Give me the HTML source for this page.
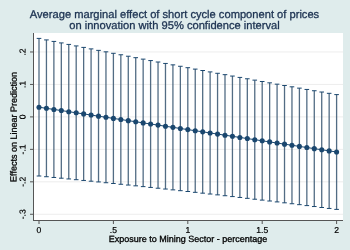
<!DOCTYPE html>
<html><head><meta charset="utf-8"><style>
html,body{margin:0;padding:0;background:#DFECEC;}
svg{display:block;will-change:transform;text-rendering:geometricPrecision;font-family:"Liberation Sans",sans-serif;}
</style></head><body>
<svg width="350" height="250" viewBox="0 0 350 250">
<rect x="0" y="0" width="350" height="250" fill="#DFECEC"/>
<rect x="33" y="33" width="310" height="187" fill="#fff"/>
<line x1="33" x2="343" y1="51.98" y2="51.98" stroke="#EDEDED" stroke-width="1"/>
<line x1="33" x2="343" y1="84.44" y2="84.44" stroke="#EDEDED" stroke-width="1"/>
<line x1="33" x2="343" y1="116.90" y2="116.90" stroke="#EDEDED" stroke-width="1"/>
<line x1="33" x2="343" y1="149.36" y2="149.36" stroke="#EDEDED" stroke-width="1"/>
<line x1="33" x2="343" y1="181.82" y2="181.82" stroke="#EDEDED" stroke-width="1"/>
<line x1="33" x2="343" y1="214.28" y2="214.28" stroke="#EDEDED" stroke-width="1"/>
<line x1="33.5" x2="33.5" y1="33" y2="221" stroke="#555" stroke-width="1"/>
<line x1="33" x2="343" y1="220.5" y2="220.5" stroke="#555" stroke-width="1"/>
<line x1="30" x2="33" y1="51.98" y2="51.98" stroke="#555" stroke-width="1"/>
<text transform="translate(25.6,51.98) rotate(-89.9)" text-anchor="middle" font-size="8.6" stroke="#000" stroke-width="0.2">.2</text>
<line x1="30" x2="33" y1="84.44" y2="84.44" stroke="#555" stroke-width="1"/>
<text transform="translate(25.6,84.44) rotate(-89.9)" text-anchor="middle" font-size="8.6" stroke="#000" stroke-width="0.2">.1</text>
<line x1="30" x2="33" y1="116.90" y2="116.90" stroke="#555" stroke-width="1"/>
<text transform="translate(25.6,116.90) rotate(-89.9)" text-anchor="middle" font-size="8.6" stroke="#000" stroke-width="0.2">0</text>
<line x1="30" x2="33" y1="149.36" y2="149.36" stroke="#555" stroke-width="1"/>
<text transform="translate(25.6,149.36) rotate(-89.9)" text-anchor="middle" font-size="8.6" stroke="#000" stroke-width="0.2">-.1</text>
<line x1="30" x2="33" y1="181.82" y2="181.82" stroke="#555" stroke-width="1"/>
<text transform="translate(25.6,181.82) rotate(-89.9)" text-anchor="middle" font-size="8.6" stroke="#000" stroke-width="0.2">-.2</text>
<line x1="30" x2="33" y1="214.28" y2="214.28" stroke="#555" stroke-width="1"/>
<text transform="translate(25.6,214.28) rotate(-89.9)" text-anchor="middle" font-size="8.6" stroke="#000" stroke-width="0.2">-.3</text>
<line x1="39.00" x2="39.00" y1="221" y2="224" stroke="#555" stroke-width="1"/>
<text x="39.00" y="233.4" text-anchor="middle" font-size="8.6" stroke="#000" stroke-width="0.2">0</text>
<line x1="113.40" x2="113.40" y1="221" y2="224" stroke="#555" stroke-width="1"/>
<text x="113.40" y="233.4" text-anchor="middle" font-size="8.6" stroke="#000" stroke-width="0.2">.5</text>
<line x1="187.80" x2="187.80" y1="221" y2="224" stroke="#555" stroke-width="1"/>
<text x="187.80" y="233.4" text-anchor="middle" font-size="8.6" stroke="#000" stroke-width="0.2">1</text>
<line x1="262.20" x2="262.20" y1="221" y2="224" stroke="#555" stroke-width="1"/>
<text x="262.20" y="233.4" text-anchor="middle" font-size="8.6" stroke="#000" stroke-width="0.2">1.5</text>
<line x1="336.60" x2="336.60" y1="221" y2="224" stroke="#555" stroke-width="1"/>
<text x="336.60" y="233.4" text-anchor="middle" font-size="8.6" stroke="#000" stroke-width="0.2">2</text>
<line x1="39.00" x2="39.00" y1="38.40" y2="176.00" stroke="#34526F" stroke-width="1.3" stroke-opacity="0.85"/>
<line x1="36.70" x2="41.30" y1="38.40" y2="38.40" stroke="#1A476F" stroke-width="1"/>
<line x1="36.70" x2="41.30" y1="176.00" y2="176.00" stroke="#1A476F" stroke-width="1"/>
<line x1="46.44" x2="46.44" y1="39.91" y2="176.73" stroke="#34526F" stroke-width="1.3" stroke-opacity="0.85"/>
<line x1="44.14" x2="48.74" y1="39.91" y2="39.91" stroke="#1A476F" stroke-width="1"/>
<line x1="44.14" x2="48.74" y1="176.73" y2="176.73" stroke="#1A476F" stroke-width="1"/>
<line x1="53.88" x2="53.88" y1="41.42" y2="177.46" stroke="#34526F" stroke-width="1.3" stroke-opacity="0.85"/>
<line x1="51.58" x2="56.18" y1="41.42" y2="41.42" stroke="#1A476F" stroke-width="1"/>
<line x1="51.58" x2="56.18" y1="177.46" y2="177.46" stroke="#1A476F" stroke-width="1"/>
<line x1="61.32" x2="61.32" y1="42.92" y2="178.20" stroke="#34526F" stroke-width="1.3" stroke-opacity="0.85"/>
<line x1="59.02" x2="63.62" y1="42.92" y2="42.92" stroke="#1A476F" stroke-width="1"/>
<line x1="59.02" x2="63.62" y1="178.20" y2="178.20" stroke="#1A476F" stroke-width="1"/>
<line x1="68.76" x2="68.76" y1="44.42" y2="178.94" stroke="#34526F" stroke-width="1.3" stroke-opacity="0.85"/>
<line x1="66.46" x2="71.06" y1="44.42" y2="44.42" stroke="#1A476F" stroke-width="1"/>
<line x1="66.46" x2="71.06" y1="178.94" y2="178.94" stroke="#1A476F" stroke-width="1"/>
<line x1="76.20" x2="76.20" y1="45.91" y2="179.69" stroke="#34526F" stroke-width="1.3" stroke-opacity="0.85"/>
<line x1="73.90" x2="78.50" y1="45.91" y2="45.91" stroke="#1A476F" stroke-width="1"/>
<line x1="73.90" x2="78.50" y1="179.69" y2="179.69" stroke="#1A476F" stroke-width="1"/>
<line x1="83.64" x2="83.64" y1="47.40" y2="180.44" stroke="#34526F" stroke-width="1.3" stroke-opacity="0.85"/>
<line x1="81.34" x2="85.94" y1="47.40" y2="47.40" stroke="#1A476F" stroke-width="1"/>
<line x1="81.34" x2="85.94" y1="180.44" y2="180.44" stroke="#1A476F" stroke-width="1"/>
<line x1="91.08" x2="91.08" y1="48.89" y2="181.19" stroke="#34526F" stroke-width="1.3" stroke-opacity="0.85"/>
<line x1="88.78" x2="93.38" y1="48.89" y2="48.89" stroke="#1A476F" stroke-width="1"/>
<line x1="88.78" x2="93.38" y1="181.19" y2="181.19" stroke="#1A476F" stroke-width="1"/>
<line x1="98.52" x2="98.52" y1="50.37" y2="181.95" stroke="#34526F" stroke-width="1.3" stroke-opacity="0.85"/>
<line x1="96.22" x2="100.82" y1="50.37" y2="50.37" stroke="#1A476F" stroke-width="1"/>
<line x1="96.22" x2="100.82" y1="181.95" y2="181.95" stroke="#1A476F" stroke-width="1"/>
<line x1="105.96" x2="105.96" y1="51.84" y2="182.72" stroke="#34526F" stroke-width="1.3" stroke-opacity="0.85"/>
<line x1="103.66" x2="108.26" y1="51.84" y2="51.84" stroke="#1A476F" stroke-width="1"/>
<line x1="103.66" x2="108.26" y1="182.72" y2="182.72" stroke="#1A476F" stroke-width="1"/>
<line x1="113.40" x2="113.40" y1="53.31" y2="183.49" stroke="#34526F" stroke-width="1.3" stroke-opacity="0.85"/>
<line x1="111.10" x2="115.70" y1="53.31" y2="53.31" stroke="#1A476F" stroke-width="1"/>
<line x1="111.10" x2="115.70" y1="183.49" y2="183.49" stroke="#1A476F" stroke-width="1"/>
<line x1="120.84" x2="120.84" y1="54.77" y2="184.27" stroke="#34526F" stroke-width="1.3" stroke-opacity="0.85"/>
<line x1="118.54" x2="123.14" y1="54.77" y2="54.77" stroke="#1A476F" stroke-width="1"/>
<line x1="118.54" x2="123.14" y1="184.27" y2="184.27" stroke="#1A476F" stroke-width="1"/>
<line x1="128.28" x2="128.28" y1="56.23" y2="185.05" stroke="#34526F" stroke-width="1.3" stroke-opacity="0.85"/>
<line x1="125.98" x2="130.58" y1="56.23" y2="56.23" stroke="#1A476F" stroke-width="1"/>
<line x1="125.98" x2="130.58" y1="185.05" y2="185.05" stroke="#1A476F" stroke-width="1"/>
<line x1="135.72" x2="135.72" y1="57.68" y2="185.84" stroke="#34526F" stroke-width="1.3" stroke-opacity="0.85"/>
<line x1="133.42" x2="138.02" y1="57.68" y2="57.68" stroke="#1A476F" stroke-width="1"/>
<line x1="133.42" x2="138.02" y1="185.84" y2="185.84" stroke="#1A476F" stroke-width="1"/>
<line x1="143.16" x2="143.16" y1="59.13" y2="186.63" stroke="#34526F" stroke-width="1.3" stroke-opacity="0.85"/>
<line x1="140.86" x2="145.46" y1="59.13" y2="59.13" stroke="#1A476F" stroke-width="1"/>
<line x1="140.86" x2="145.46" y1="186.63" y2="186.63" stroke="#1A476F" stroke-width="1"/>
<line x1="150.60" x2="150.60" y1="60.57" y2="187.43" stroke="#34526F" stroke-width="1.3" stroke-opacity="0.85"/>
<line x1="148.30" x2="152.90" y1="60.57" y2="60.57" stroke="#1A476F" stroke-width="1"/>
<line x1="148.30" x2="152.90" y1="187.43" y2="187.43" stroke="#1A476F" stroke-width="1"/>
<line x1="158.04" x2="158.04" y1="62.01" y2="188.23" stroke="#34526F" stroke-width="1.3" stroke-opacity="0.85"/>
<line x1="155.74" x2="160.34" y1="62.01" y2="62.01" stroke="#1A476F" stroke-width="1"/>
<line x1="155.74" x2="160.34" y1="188.23" y2="188.23" stroke="#1A476F" stroke-width="1"/>
<line x1="165.48" x2="165.48" y1="63.44" y2="189.04" stroke="#34526F" stroke-width="1.3" stroke-opacity="0.85"/>
<line x1="163.18" x2="167.78" y1="63.44" y2="63.44" stroke="#1A476F" stroke-width="1"/>
<line x1="163.18" x2="167.78" y1="189.04" y2="189.04" stroke="#1A476F" stroke-width="1"/>
<line x1="172.92" x2="172.92" y1="64.86" y2="189.86" stroke="#34526F" stroke-width="1.3" stroke-opacity="0.85"/>
<line x1="170.62" x2="175.22" y1="64.86" y2="64.86" stroke="#1A476F" stroke-width="1"/>
<line x1="170.62" x2="175.22" y1="189.86" y2="189.86" stroke="#1A476F" stroke-width="1"/>
<line x1="180.36" x2="180.36" y1="66.28" y2="190.68" stroke="#34526F" stroke-width="1.3" stroke-opacity="0.85"/>
<line x1="178.06" x2="182.66" y1="66.28" y2="66.28" stroke="#1A476F" stroke-width="1"/>
<line x1="178.06" x2="182.66" y1="190.68" y2="190.68" stroke="#1A476F" stroke-width="1"/>
<line x1="187.80" x2="187.80" y1="67.70" y2="191.50" stroke="#34526F" stroke-width="1.3" stroke-opacity="0.85"/>
<line x1="185.50" x2="190.10" y1="67.70" y2="67.70" stroke="#1A476F" stroke-width="1"/>
<line x1="185.50" x2="190.10" y1="191.50" y2="191.50" stroke="#1A476F" stroke-width="1"/>
<line x1="195.24" x2="195.24" y1="69.10" y2="192.34" stroke="#34526F" stroke-width="1.3" stroke-opacity="0.85"/>
<line x1="192.94" x2="197.54" y1="69.10" y2="69.10" stroke="#1A476F" stroke-width="1"/>
<line x1="192.94" x2="197.54" y1="192.34" y2="192.34" stroke="#1A476F" stroke-width="1"/>
<line x1="202.68" x2="202.68" y1="70.51" y2="193.17" stroke="#34526F" stroke-width="1.3" stroke-opacity="0.85"/>
<line x1="200.38" x2="204.98" y1="70.51" y2="70.51" stroke="#1A476F" stroke-width="1"/>
<line x1="200.38" x2="204.98" y1="193.17" y2="193.17" stroke="#1A476F" stroke-width="1"/>
<line x1="210.12" x2="210.12" y1="71.90" y2="194.02" stroke="#34526F" stroke-width="1.3" stroke-opacity="0.85"/>
<line x1="207.82" x2="212.42" y1="71.90" y2="71.90" stroke="#1A476F" stroke-width="1"/>
<line x1="207.82" x2="212.42" y1="194.02" y2="194.02" stroke="#1A476F" stroke-width="1"/>
<line x1="217.56" x2="217.56" y1="73.29" y2="194.87" stroke="#34526F" stroke-width="1.3" stroke-opacity="0.85"/>
<line x1="215.26" x2="219.86" y1="73.29" y2="73.29" stroke="#1A476F" stroke-width="1"/>
<line x1="215.26" x2="219.86" y1="194.87" y2="194.87" stroke="#1A476F" stroke-width="1"/>
<line x1="225.00" x2="225.00" y1="74.67" y2="195.73" stroke="#34526F" stroke-width="1.3" stroke-opacity="0.85"/>
<line x1="222.70" x2="227.30" y1="74.67" y2="74.67" stroke="#1A476F" stroke-width="1"/>
<line x1="222.70" x2="227.30" y1="195.73" y2="195.73" stroke="#1A476F" stroke-width="1"/>
<line x1="232.44" x2="232.44" y1="76.05" y2="196.59" stroke="#34526F" stroke-width="1.3" stroke-opacity="0.85"/>
<line x1="230.14" x2="234.74" y1="76.05" y2="76.05" stroke="#1A476F" stroke-width="1"/>
<line x1="230.14" x2="234.74" y1="196.59" y2="196.59" stroke="#1A476F" stroke-width="1"/>
<line x1="239.88" x2="239.88" y1="77.42" y2="197.46" stroke="#34526F" stroke-width="1.3" stroke-opacity="0.85"/>
<line x1="237.58" x2="242.18" y1="77.42" y2="77.42" stroke="#1A476F" stroke-width="1"/>
<line x1="237.58" x2="242.18" y1="197.46" y2="197.46" stroke="#1A476F" stroke-width="1"/>
<line x1="247.32" x2="247.32" y1="78.78" y2="198.34" stroke="#34526F" stroke-width="1.3" stroke-opacity="0.85"/>
<line x1="245.02" x2="249.62" y1="78.78" y2="78.78" stroke="#1A476F" stroke-width="1"/>
<line x1="245.02" x2="249.62" y1="198.34" y2="198.34" stroke="#1A476F" stroke-width="1"/>
<line x1="254.76" x2="254.76" y1="80.14" y2="199.22" stroke="#34526F" stroke-width="1.3" stroke-opacity="0.85"/>
<line x1="252.46" x2="257.06" y1="80.14" y2="80.14" stroke="#1A476F" stroke-width="1"/>
<line x1="252.46" x2="257.06" y1="199.22" y2="199.22" stroke="#1A476F" stroke-width="1"/>
<line x1="262.20" x2="262.20" y1="81.49" y2="200.11" stroke="#34526F" stroke-width="1.3" stroke-opacity="0.85"/>
<line x1="259.90" x2="264.50" y1="81.49" y2="81.49" stroke="#1A476F" stroke-width="1"/>
<line x1="259.90" x2="264.50" y1="200.11" y2="200.11" stroke="#1A476F" stroke-width="1"/>
<line x1="269.64" x2="269.64" y1="82.83" y2="201.01" stroke="#34526F" stroke-width="1.3" stroke-opacity="0.85"/>
<line x1="267.34" x2="271.94" y1="82.83" y2="82.83" stroke="#1A476F" stroke-width="1"/>
<line x1="267.34" x2="271.94" y1="201.01" y2="201.01" stroke="#1A476F" stroke-width="1"/>
<line x1="277.08" x2="277.08" y1="84.17" y2="201.91" stroke="#34526F" stroke-width="1.3" stroke-opacity="0.85"/>
<line x1="274.78" x2="279.38" y1="84.17" y2="84.17" stroke="#1A476F" stroke-width="1"/>
<line x1="274.78" x2="279.38" y1="201.91" y2="201.91" stroke="#1A476F" stroke-width="1"/>
<line x1="284.52" x2="284.52" y1="85.50" y2="202.82" stroke="#34526F" stroke-width="1.3" stroke-opacity="0.85"/>
<line x1="282.22" x2="286.82" y1="85.50" y2="85.50" stroke="#1A476F" stroke-width="1"/>
<line x1="282.22" x2="286.82" y1="202.82" y2="202.82" stroke="#1A476F" stroke-width="1"/>
<line x1="291.96" x2="291.96" y1="86.82" y2="203.74" stroke="#34526F" stroke-width="1.3" stroke-opacity="0.85"/>
<line x1="289.66" x2="294.26" y1="86.82" y2="86.82" stroke="#1A476F" stroke-width="1"/>
<line x1="289.66" x2="294.26" y1="203.74" y2="203.74" stroke="#1A476F" stroke-width="1"/>
<line x1="299.40" x2="299.40" y1="88.13" y2="204.67" stroke="#34526F" stroke-width="1.3" stroke-opacity="0.85"/>
<line x1="297.10" x2="301.70" y1="88.13" y2="88.13" stroke="#1A476F" stroke-width="1"/>
<line x1="297.10" x2="301.70" y1="204.67" y2="204.67" stroke="#1A476F" stroke-width="1"/>
<line x1="306.84" x2="306.84" y1="89.44" y2="205.60" stroke="#34526F" stroke-width="1.3" stroke-opacity="0.85"/>
<line x1="304.54" x2="309.14" y1="89.44" y2="89.44" stroke="#1A476F" stroke-width="1"/>
<line x1="304.54" x2="309.14" y1="205.60" y2="205.60" stroke="#1A476F" stroke-width="1"/>
<line x1="314.28" x2="314.28" y1="90.74" y2="206.54" stroke="#34526F" stroke-width="1.3" stroke-opacity="0.85"/>
<line x1="311.98" x2="316.58" y1="90.74" y2="90.74" stroke="#1A476F" stroke-width="1"/>
<line x1="311.98" x2="316.58" y1="206.54" y2="206.54" stroke="#1A476F" stroke-width="1"/>
<line x1="321.72" x2="321.72" y1="92.03" y2="207.49" stroke="#34526F" stroke-width="1.3" stroke-opacity="0.85"/>
<line x1="319.42" x2="324.02" y1="92.03" y2="92.03" stroke="#1A476F" stroke-width="1"/>
<line x1="319.42" x2="324.02" y1="207.49" y2="207.49" stroke="#1A476F" stroke-width="1"/>
<line x1="329.16" x2="329.16" y1="93.32" y2="208.44" stroke="#34526F" stroke-width="1.3" stroke-opacity="0.85"/>
<line x1="326.86" x2="331.46" y1="93.32" y2="93.32" stroke="#1A476F" stroke-width="1"/>
<line x1="326.86" x2="331.46" y1="208.44" y2="208.44" stroke="#1A476F" stroke-width="1"/>
<line x1="336.60" x2="336.60" y1="94.60" y2="209.40" stroke="#34526F" stroke-width="1.3" stroke-opacity="0.85"/>
<line x1="334.30" x2="338.90" y1="94.60" y2="94.60" stroke="#1A476F" stroke-width="1"/>
<line x1="334.30" x2="338.90" y1="209.40" y2="209.40" stroke="#1A476F" stroke-width="1"/>
<polyline fill="none" stroke="#1A476F" stroke-width="1" points="39.00,107.20 46.44,108.32 53.88,109.44 61.32,110.56 68.76,111.68 76.20,112.80 83.64,113.92 91.08,115.04 98.52,116.16 105.96,117.28 113.40,118.40 120.84,119.52 128.28,120.64 135.72,121.76 143.16,122.88 150.60,124.00 158.04,125.12 165.48,126.24 172.92,127.36 180.36,128.48 187.80,129.60 195.24,130.72 202.68,131.84 210.12,132.96 217.56,134.08 225.00,135.20 232.44,136.32 239.88,137.44 247.32,138.56 254.76,139.68 262.20,140.80 269.64,141.92 277.08,143.04 284.52,144.16 291.96,145.28 299.40,146.40 306.84,147.52 314.28,148.64 321.72,149.76 329.16,150.88 336.60,152.00"/>
<circle cx="39.00" cy="107.20" r="2.55" fill="#1A476F"/>
<circle cx="46.44" cy="108.32" r="2.55" fill="#1A476F"/>
<circle cx="53.88" cy="109.44" r="2.55" fill="#1A476F"/>
<circle cx="61.32" cy="110.56" r="2.55" fill="#1A476F"/>
<circle cx="68.76" cy="111.68" r="2.55" fill="#1A476F"/>
<circle cx="76.20" cy="112.80" r="2.55" fill="#1A476F"/>
<circle cx="83.64" cy="113.92" r="2.55" fill="#1A476F"/>
<circle cx="91.08" cy="115.04" r="2.55" fill="#1A476F"/>
<circle cx="98.52" cy="116.16" r="2.55" fill="#1A476F"/>
<circle cx="105.96" cy="117.28" r="2.55" fill="#1A476F"/>
<circle cx="113.40" cy="118.40" r="2.55" fill="#1A476F"/>
<circle cx="120.84" cy="119.52" r="2.55" fill="#1A476F"/>
<circle cx="128.28" cy="120.64" r="2.55" fill="#1A476F"/>
<circle cx="135.72" cy="121.76" r="2.55" fill="#1A476F"/>
<circle cx="143.16" cy="122.88" r="2.55" fill="#1A476F"/>
<circle cx="150.60" cy="124.00" r="2.55" fill="#1A476F"/>
<circle cx="158.04" cy="125.12" r="2.55" fill="#1A476F"/>
<circle cx="165.48" cy="126.24" r="2.55" fill="#1A476F"/>
<circle cx="172.92" cy="127.36" r="2.55" fill="#1A476F"/>
<circle cx="180.36" cy="128.48" r="2.55" fill="#1A476F"/>
<circle cx="187.80" cy="129.60" r="2.55" fill="#1A476F"/>
<circle cx="195.24" cy="130.72" r="2.55" fill="#1A476F"/>
<circle cx="202.68" cy="131.84" r="2.55" fill="#1A476F"/>
<circle cx="210.12" cy="132.96" r="2.55" fill="#1A476F"/>
<circle cx="217.56" cy="134.08" r="2.55" fill="#1A476F"/>
<circle cx="225.00" cy="135.20" r="2.55" fill="#1A476F"/>
<circle cx="232.44" cy="136.32" r="2.55" fill="#1A476F"/>
<circle cx="239.88" cy="137.44" r="2.55" fill="#1A476F"/>
<circle cx="247.32" cy="138.56" r="2.55" fill="#1A476F"/>
<circle cx="254.76" cy="139.68" r="2.55" fill="#1A476F"/>
<circle cx="262.20" cy="140.80" r="2.55" fill="#1A476F"/>
<circle cx="269.64" cy="141.92" r="2.55" fill="#1A476F"/>
<circle cx="277.08" cy="143.04" r="2.55" fill="#1A476F"/>
<circle cx="284.52" cy="144.16" r="2.55" fill="#1A476F"/>
<circle cx="291.96" cy="145.28" r="2.55" fill="#1A476F"/>
<circle cx="299.40" cy="146.40" r="2.55" fill="#1A476F"/>
<circle cx="306.84" cy="147.52" r="2.55" fill="#1A476F"/>
<circle cx="314.28" cy="148.64" r="2.55" fill="#1A476F"/>
<circle cx="321.72" cy="149.76" r="2.55" fill="#1A476F"/>
<circle cx="329.16" cy="150.88" r="2.55" fill="#1A476F"/>
<circle cx="336.60" cy="152.00" r="2.55" fill="#1A476F"/>
<text x="174.5" y="17.7" text-anchor="middle" font-size="11.15" fill="#1D3352" stroke="#1D3352" stroke-width="0.3">Average marginal effect of short cycle component of prices</text>
<text x="174.5" y="28.8" text-anchor="middle" font-size="11.15" fill="#1D3352" stroke="#1D3352" stroke-width="0.3">on innovation with 95% confidence interval</text>
<text transform="translate(16.7,127) rotate(-89.9)" text-anchor="middle" font-size="9.0" stroke="#000" stroke-width="0.3">Effects on Linear Prediction</text>
<text x="188" y="241.7" text-anchor="middle" font-size="9.0" stroke="#000" stroke-width="0.3">Exposure to Mining Sector - percentage</text>
</svg></body></html>
